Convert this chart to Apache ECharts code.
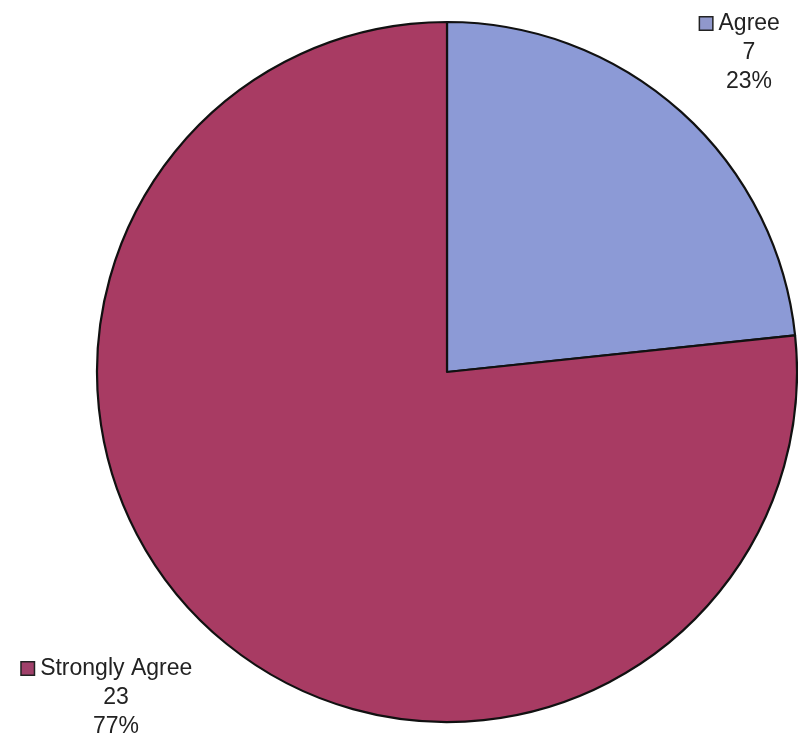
<!DOCTYPE html>
<html>
<head>
<meta charset="utf-8">
<script src="https://cdn.jsdelivr.net/npm/echarts@6/dist/echarts.min.js"></script>
<style>
  html, body { margin: 0; padding: 0; background: #fff; }
  #chart { width: 798px; height: 741px; }
</style>
</head>
<body>
<div id="chart"></div>
<script>
// data
var categories = ['Agree', 'Strongly Agree'];
var values = [7, 23];
var percents = ['23%', '77%'];
var colors = ['#8C9AD6', '#A83B63'];

var myChart = echarts.init(document.getElementById('chart'));

var pieData = categories.map(function (name, i) {
    return { name: name, value: values[i], itemStyle: { color: colors[i] } };
});

// label spots (text centre x, top y) for each slice
var labelSpots = [[749, 9], [116, 654]];

option = {
    backgroundColor: '#ffffff',
    animation: false,
    series: [
        {
            type: 'pie',
            center: [447, 372],
            radius: 350,
            startAngle: 90,
            clockwise: true,
            data: pieData,
            itemStyle: {
                borderColor: '#111',
                borderWidth: 2.2
            },
            labelLine: { show: false },
            label: {
                show: true,
                overflow: 'none',
                fontFamily: 'Liberation Sans, Arial, sans-serif',
                fontSize: 23,
                lineHeight: 29,
                color: '#222',
                align: 'center',
                formatter: function (p) {
                    var sq = p.dataIndex === 0 ? 'sqA' : 'sqB';
                    return '{' + sq + '|}{t| ' + p.name + '}{pad|}\n' + p.value + '\n' + percents[p.dataIndex];
                },
                rich: {
                    t: { fontSize: 23, color: '#222', fontFamily: 'Liberation Sans, Arial, sans-serif' },
                    sqA: { width: 12, height: 12, backgroundColor: '#9098CC', borderColor: '#222', borderWidth: 1.5 },
                    sqB: { width: 12, height: 12, backgroundColor: '#A0406A', borderColor: '#222', borderWidth: 1.5 },
                    pad: { width: 18 }
                }
            },
            labelLayout: function (params) {
                var s = labelSpots[params.dataIndex];
                return { x: s[0], y: s[1], align: 'center', verticalAlign: 'top' };
            }
        }
    ]
};

myChart.setOption(option);
</script>
</body>
</html>
